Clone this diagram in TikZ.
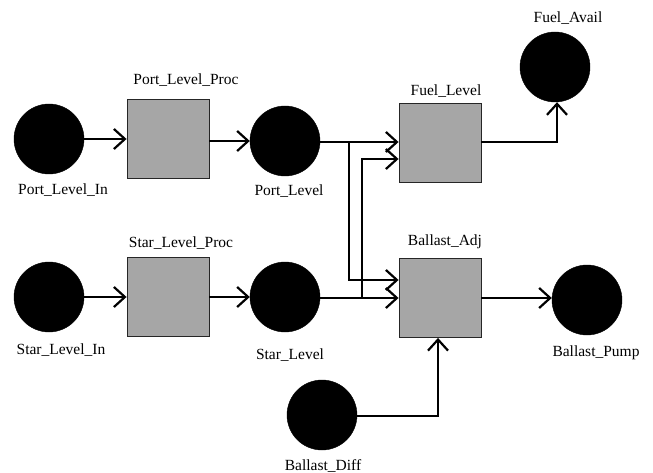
\documentclass[tikz,border=0pt]{standalone}
\usepackage{fontspec}
\setmainfont{Liberation Serif}
\usetikzlibrary{arrows.meta}
\begin{document}
\begin{tikzpicture}[x=1pt,y=-1pt,
  store/.style={circle,fill=black,draw=black,minimum size=70pt,inner sep=0pt},
  proc/.style={rectangle,fill=black!35,draw=black!85,line width=0.9pt,minimum width=82pt,minimum height=79pt,inner sep=0pt},
  lbl/.style={font=\fontsize{15.5}{17}\selectfont,inner sep=0pt},
  flow/.style={line width=1.5pt,-{Straight Barb[length=11pt,width=20pt,line width=2.2pt]}}]
\useasboundingbox (0,0) rectangle (653,473);
% nodes
\node[store] (pli) at (49,139) {};
\node[proc]  (plp) at (168,139) {};
\node[store] (pl)  at (285,141) {};
\node[proc]  (fl)  at (440,142.5) {};
\node[store] (fa)  at (555,67) {};
\node[store] (sli) at (49,297) {};
\node[proc]  (slp) at (168,297) {};
\node[store] (sl)  at (285,297) {};
\node[proc]  (ba)  at (440,298) {};
\node[store] (bp)  at (587,300) {};
\node[store] (bd)  at (322,415) {};
% labels
\node[lbl] (tpli) at (63,190) {Port\_Level\_In};
\node[lbl] (tplp) at (186,80) {Port\_Level\_Proc};
\node[lbl] (tpl)  at (289,191) {Port\_Level};
\node[lbl] (tfl)  at (446,91) {Fuel\_Level};
\node[lbl] (tfa)  at (568,18) {Fuel\_Avail};
\node[lbl] (tsli) at (61,350) {Star\_Level\_In};
\node[lbl] (tslp) at (181,243) {Star\_Level\_Proc};
\node[lbl] (tsl)  at (290,355) {Star\_Level};
\node[lbl] (tba)  at (445,242) {Ballast\_Adj};
\node[lbl] (tbp)  at (596,353) {Ballast\_Pump};
\node[lbl] (tbd)  at (323,466) {Ballast\_Diff};
% junction coordinates
\coordinate (j1) at (349,142);
\coordinate (j1b) at (349,280);
\coordinate (j2) at (362,298);
\coordinate (j2b) at (362,159);
\coordinate (j3) at (557,142);
\coordinate (j4) at (438,416);
% connectors
\draw[flow] (pli.east) -- (pli.east -| plp.west);
\draw[flow] (plp.east |- pl.center) -- (pl.west);
\draw[flow] (pl.east |- j1) -- (j1) -- (j1 -| fl.west);
\draw[flow] (j1) -- (j1b) -- (j1b -| ba.west);
\draw[flow] (sli.east) -- (slp.west);
\draw[flow] (slp.east) -- (sl.west);
\draw[flow] (sl.east |- j2) -- (j2 -| ba.west);
\draw[flow] (j2) -- (j2b) -- (j2b -| fl.west);
\draw[flow] (fl.east |- j3) -- (j3) -- (j3 |- fa.south);
\draw[flow] (ba.east |- j2) -- (j2 -| bp.west);
\draw[flow] (bd.east |- j4) -- (j4) -- (j4 |- ba.south);
\end{tikzpicture}
\end{document}
